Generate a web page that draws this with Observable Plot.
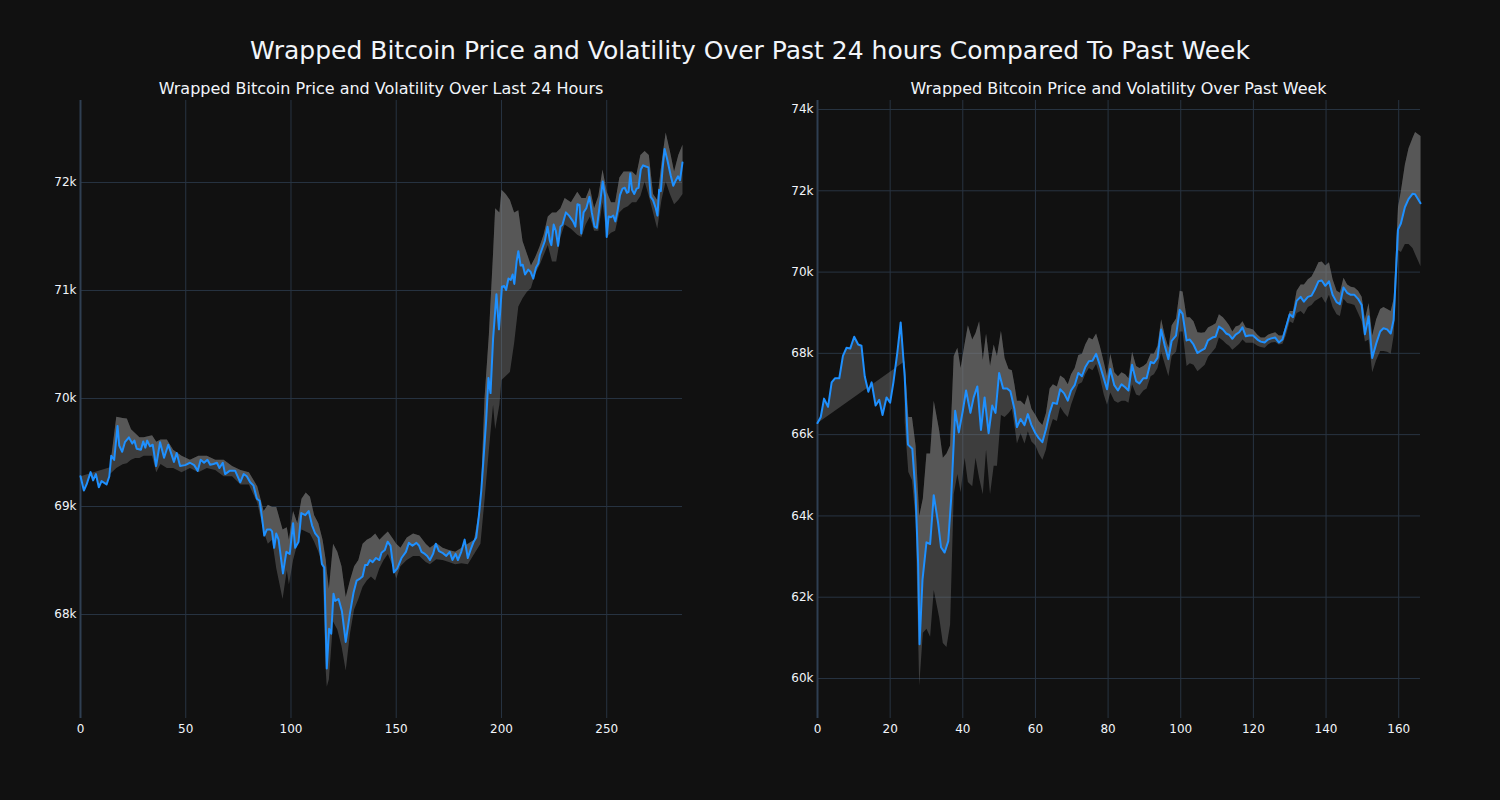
<!DOCTYPE html>
<html>
<head>
<meta charset="utf-8">
<script src="https://cdn.jsdelivr.net/npm/d3@7"></script>
<script src="https://cdn.jsdelivr.net/npm/@observablehq/plot@0.6"></script>
<style>
  html, body { margin: 0; padding: 0; background: #111111; }
  #root { position: relative; width: 1500px; height: 800px; background: #111111; font-family: "DejaVu Sans", sans-serif; color: #f2f5fa; overflow: hidden; }
  .title { position: absolute; left: 0; width: 1500px; top: 36px; text-align: center; font-size: 25px; line-height: 30px; z-index: 2; }
  .sub { position: absolute; top: 79px; font-size: 16px; line-height: 20px; text-align: center; z-index: 2; white-space: nowrap; }
  .panel { position: absolute; top: 90px; z-index: 1; }
</style>
</head>
<body>
<div id="root">
  <div class="title">Wrapped Bitcoin Price and Volatility Over Past 24 hours Compared To Past Week</div>
  <div class="sub" id="sub1" style="left:80px;width:602px;">Wrapped Bitcoin Price and Volatility Over Last 24 Hours</div>
  <div class="sub" id="sub2" style="left:817px;width:603px;">Wrapped Bitcoin Price and Volatility Over Past Week</div>
  <div class="panel" id="p1" style="left:0px;"></div>
  <div class="panel" id="p2" style="left:750px;"></div>
</div>
<script>
// ---------- Last 24 hours (5-minute index) ----------
const hourX = [0,1.6,2.9,4.8,6,7.3,8.7,10,12.4,13.7,14.6,16,17.6,18.4,19.8,21.1,23,24.6,25.6,26.7,28.7,29.8,30.8,31.7,33,34.3,35.9,37.8,39.7,41.7,43,44.4,45.7,47.3,49.7,52,54,55.7,57.1,58.7,60.3,61.6,63.2,64.8,66,67.6,68.7,70.8,73.5,75.9,77.5,79,80.6,82.2,83.8,85.1,86.2,87.3,88.6,90.2,91,92,93,94.1,96.2,97.8,99.4,101,102,103.6,104.9,106.8,108.4,110,111.5,113.1,114.7,115.8,117,118.1,119.1,120.2,121,122.6,124.2,126,128,129.7,131.2,132.8,134,135.2,136.3,137.5,138.8,140.4,142,143,144.6,145.9,147.3,148.9,150.5,152.5,154.6,156,157.7,159.6,160.9,162,163.6,164.7,166,167.5,168.8,170.3,172.2,173.8,175.4,176.7,178.2,179.3,180.9,182.5,184,185.3,186.8,188,189.3,190.4,191.5,192.7,193.8,194.8,196,197.6,198.8,200.2,201.3,202.2,203.3,204.4,205.3,206.1,207.2,208,209.1,210.1,211.2,212.7,213.8,215.1,216.4,217.5,218.2,220.6,221.9,223,223.7,224.8,225.8,226.9,228,229,230.6,232.1,234,235.1,236.1,237.1,237.9,239,240.3,241.8,242.9,244.2,245.3,246.5,248.1,249.2,250,250.9,252,253.1,254.1,255.2,256.3,257.5,258.6,259.6,260.4,261.2,262,263.1,264.2,265.1,266.2,267.3,268.6,269.8,270.9,272,273.3,274.1,274.9,275.7,276.5,277.5,278.8,280.4,281.6,282.8,283.9,284.8,286];
const hourPrice = [69280,69148,69204,69318,69242,69300,69178,69235,69204,69280,69470,69432,69746,69564,69507,69595,69640,69583,69610,69534,69526,69602,69545,69610,69557,69572,69375,69595,69451,69572,69496,69413,69496,69375,69383,69405,69383,69330,69432,69405,69432,69386,69394,69405,69356,69405,69300,69330,69330,69224,69300,69280,69224,69193,69072,69053,68901,68731,68788,68788,68769,68617,68750,68693,68380,68580,68560,68845,68617,68674,68939,68920,68958,68826,68750,68712,68466,68435,67500,67867,67822,68193,68125,68144,68030,67746,68011,68201,68314,68333,68352,68458,68458,68504,68485,68523,68504,68572,68598,68674,68636,68390,68428,68523,68580,68663,68636,68663,68636,68580,68561,68542,68504,68561,68655,68587,68568,68542,68580,68504,68561,68504,68580,68693,68523,68598,68674,68712,68920,69148,69451,69790,70190,70050,70550,70966,70640,71034,71042,71004,71110,71098,71148,71061,71269,71364,71231,71239,71148,71193,71174,71110,71212,71250,71326,71458,71591,71458,71420,71610,71553,71413,71591,71610,71723,71693,71640,71591,71799,71792,71527,71723,71761,71867,71723,71591,71580,71761,72008,71875,71496,71686,71678,71693,71640,71742,71883,71943,71951,71905,71913,72083,71932,71894,71943,71951,72121,72159,72148,72140,71867,71837,71761,71693,71932,71920,72121,72311,72208,72064,71970,72019,72057,72019,72186];
const hourBandX = [14,17,20,22,24,26,28,30,34,36,38,41,44,48,52,56,60,64,68,72,76,80,84,87,89,91,93,96,98,99,101,103,105,107,109,111,113,115,116.5,117,118,120,122,124,126,128,130,132,134,136,138,140,142,144,146,148,150,152,155,158,161,164,166,169,172,175,178,181,184,187,190,192,194,196,197,199,200,202,204,206,208,210,212,214,216,218,220,222,224,226,228,230,233,236,238,240,242,244,246,248,250,252,254,256,258,260,262,264,266,268,270,272,274,276,278,280,282,284,286];
const hourUpper = [69364,69830,69820,69815,69716,69678,69640,69640,69659,69600,69620,69620,69526,69470,69432,69470,69470,69432,69432,69375,69337,69318,69186,68958,69015,68996,68996,68788,68807,68693,68958,68845,69072,69129,69091,68920,68845,68693,68504,68400,68239,68655,68580,68447,68163,68314,68447,68504,68655,68693,68712,68750,68693,68731,68769,68712,68655,68617,68712,68750,68731,68655,68617,68663,68617,68598,68580,68617,68655,68693,69034,70019,70587,71345,71761,71723,71932,71894,71837,71723,71742,71458,71345,71231,71307,71402,71515,71686,71723,71723,71761,71856,71818,71913,71856,71856,71951,71761,71875,72121,71913,71818,71818,72045,72102,72102,72102,72064,72254,72292,72254,71894,71837,72178,72462,72292,72102,72254,72349];
const hourLower = [69300,69356,69390,69400,69432,69450,69450,69470,69470,69318,69394,69356,69356,69318,69356,69318,69356,69337,69280,69280,69204,69204,69034,68769,68655,68693,68428,68144,68409,68277,68504,68655,68788,68769,68750,68674,68580,68466,67481,67330,67400,67935,67860,67708,67481,67822,68049,68144,68258,68314,68352,68314,68428,68504,68561,68466,68333,68447,68504,68542,68542,68485,68466,68511,68504,68485,68466,68474,68466,68561,68655,69072,69526,69943,69716,69943,70170,70208,70246,70511,70852,70928,70985,71023,71155,71231,71326,71420,71269,71269,71496,71610,71572,71515,71496,71610,71686,71553,71553,71818,71496,71534,71553,71723,71761,71780,71818,71818,71875,72008,71875,71723,71572,71837,72008,71894,71799,71837,71894];
const hourXTicks = [0,50,100,150,200,250];
const hourYTicks = [68000,69000,70000,71000,72000];

// ---------- Past week (hourly index) ----------
const weekX = [0,0.9,1.8,2.9,3.9,4.8,6,7,8,9,10.1,11.2,12.1,13,14,14.9,16,17,17.9,19,20,20.9,22,22.9,24,24.9,26.1,27,27.7,28.1,28.9,30,31,32,33.2,34,35,36,36.8,37.9,38.9,40,40.9,42.1,43,44,45,46,47.1,48.1,49,50,51.1,52.2,53.1,54.2,54.9,55.9,57,57.9,58.9,60,60.9,61.9,62.9,63.9,64.8,65.9,66.8,67.9,68.9,69.8,70.8,71.8,72.8,73.7,74.7,75.7,76.7,77.7,78.8,79.7,80.6,81.7,82.7,83.7,84.7,85.6,86.6,87.7,88.6,89.7,90.6,91.7,92.6,93.6,94.6,95.6,96.6,97.5,98.7,99.7,100.5,101.6,102.5,103.5,104.6,105.6,106.6,107.5,108.7,109.6,110.5,111.6,112.5,113.3,114.2,115.1,116.1,117,117.9,118.8,119.9,121.1,122,123.1,124,124.9,126,127,128,128.9,130,130.9,131.9,133,133.9,135,136,136.9,137.9,138.8,139.8,140.8,141.8,142.9,143.8,144.8,145.8,146.8,147.8,148.8,149.8,150.7,151.7,152.7,153.8,154.9,155.8,156.8,157.8,158.6,159.3,159.8,160.6,161.7,162.7,163.8,164.5,166];
const weekPrice = [66285,66435,66886,66685,67287,67387,67387,67938,68138,68118,68409,68219,68188,67437,67056,67287,66715,66856,66485,66916,66786,67287,68038,68760,67437,65754,65653,64531,62828,60844,62427,63349,63309,64511,63830,63229,63098,63379,64431,66585,66054,66585,67086,66535,66916,67186,66114,66916,66034,66715,66535,67517,67137,67137,67066,66635,66185,66385,66235,66505,66235,66034,65914,65814,66134,66535,66786,66756,67116,67016,66836,67086,67217,67517,67437,67657,67808,67818,67988,67718,67387,67116,67617,67217,67086,67237,67167,67086,67718,67317,67257,67387,67387,67788,67758,67888,68589,68188,67858,68309,68439,69070,68970,68319,68339,68219,68008,68068,68118,68319,68389,68409,68659,68589,68489,68459,68359,68459,68519,68640,68419,68439,68439,68339,68289,68269,68339,68369,68389,68269,68339,68619,68960,68890,69291,69391,69271,69391,69421,69572,69772,69792,69662,69772,69441,69261,69211,69622,69491,69441,69441,69341,69191,68469,68910,67888,68239,68539,68619,68589,68489,68820,70092,71044,71194,71595,71796,71926,71916,71695];
const weekBandX = [24,25,26,27,28,29,30,31,32,33.5,34.5,35.5,36.5,37.5,38.5,39.4,40.5,41.4,42.6,43.5,44.5,45.5,46.4,47.5,48.5,49.4,50.5,51.5,52.6,53.5,54.2,54.9,55.9,57,57.9,58.9,60,60.9,61.9,62.9,63.9,64.8,65.9,66.8,67.9,68.9,69.8,70.8,71.8,72.8,73.7,74.7,75.7,76.7,77.7,78.8,79.7,80.6,81.7,82.7,83.7,84.7,85.6,86.6,87.7,88.6,89.7,90.6,91.7,92.6,93.6,94.6,95.6,96.6,97.5,98.7,99.7,100.5,101.6,102.5,103.5,104.6,105.6,106.6,107.5,108.7,109.6,110.5,111.6,112.5,113.3,114.2,115.1,116.1,117,117.9,118.8,119.9,121.1,122,123.1,124,124.9,126,127,128,128.9,130,130.9,131.9,133,133.9,135,136,136.9,137.9,138.8,139.8,140.8,141.8,142.9,143.8,144.8,145.8,146.8,147.8,148.8,149.8,150.7,151.7,152.7,153.8,154.9,155.8,156.8,157.8,158.6,159.3,159.8,160.6,161.7,162.7,163.8,164.5,166];
const weekUpper = [67808,66435,66435,65734,64000,64431,65534,65534,66836,66100,65434,65534,65734,67938,68138,67638,68239,68690,68339,68500,68790,67838,68489,67688,68219,67938,68559,67888,67617,67587,67237,66836,66836,66736,66986,66636,66485,66335,66235,66535,67137,67237,67187,67457,67387,67237,67487,67637,67958,67988,68219,68389,68339,68489,68189,67788,67437,67988,67537,67437,67537,67487,67387,68038,67688,67638,67688,67758,67988,67988,68189,68840,68439,68138,68690,68860,69541,69521,68890,68890,68790,68519,68509,68519,68639,68690,68740,68960,68890,68790,68690,68539,68659,68690,68790,68639,68619,68589,68459,68389,68389,68459,68489,68519,68439,68439,68690,69040,69040,69541,69692,69692,69822,69892,70042,70243,70263,70163,70243,69822,69541,69491,69862,69692,69642,69622,69541,69391,68840,69241,68439,68840,69090,69140,69090,69040,69341,70644,71595,71996,72647,73048,73299,73449,73349];
const weekLower = [66300,65082,64882,63930,59820,61124,61224,61024,62177,61500,60874,60774,61325,64531,65032,64581,65434,64832,64732,65434,64932,64531,65634,64531,65234,65234,66485,66435,66535,66635,66235,65784,66034,65784,66084,65834,65734,65534,65383,65634,66134,66385,66335,66686,66535,66435,66736,66986,67237,67287,67487,67637,67587,67738,67437,66986,66736,67036,66836,66786,66836,66836,66786,67237,66986,66956,67086,67137,67437,67487,67637,68038,67738,67437,67938,68038,68539,68539,67688,67758,67718,67557,67638,67718,67918,68038,68138,68389,68319,68239,68189,68088,68159,68239,68339,68259,68259,68259,68189,68159,68138,68219,68269,68279,68219,68239,68439,68790,68740,68990,69040,68960,69140,69190,69291,69341,69391,69241,69441,69140,68960,68920,69341,69241,69221,69191,68990,68790,68289,68339,67537,67838,68058,68058,68038,67988,68439,69641,70544,70494,70694,70694,70594,70444,70143];
const weekXTicks = [0,20,40,60,80,100,120,140,160];
const weekYTicks = [60000,62000,64000,66000,68000,70000,72000,74000];

function pts(xs, ys) { return xs.map((x, i) => ({x, y: ys[i]})); }

function panel(opts) {
  const price = pts(opts.x, opts.price);
  const upper = pts(opts.bandX, opts.upper);
  const lower = pts(opts.bandX, opts.lower);
  // Plotly-style "tonexty" polygons: price -> upper, then upper -> lower
  const poly1 = price.concat(upper.slice().reverse());
  const poly2 = upper.concat(lower.slice().reverse());
  return Plot.plot({
    width: opts.width,
    height: 660,
    marginTop: 10,
    marginBottom: 32,
    marginLeft: opts.marginLeft,
    marginRight: opts.marginRight,
    style: {background: "transparent", color: "#f2f5fa", fontSize: "12px", fontFamily: "'DejaVu Sans', sans-serif"},
    x: {domain: opts.xDomain, ticks: opts.xTicks, tickSize: 0, tickPadding: 6, label: null, tickFormat: d => String(d)},
    y: {domain: opts.yDomain, ticks: opts.yTicks, tickSize: 0, tickPadding: 4, label: null, tickFormat: d => (d / 1000) + "k"},
    marks: [
      Plot.gridX(opts.xTicks, {stroke: "#283442", strokeOpacity: 1, strokeWidth: 1}),
      Plot.gridY(opts.yTicks, {stroke: "#283442", strokeOpacity: 1, strokeWidth: 1}),
      Plot.ruleX([0], {stroke: "#2f3f52", strokeWidth: 2}),
      Plot.line(poly1, {x: "x", y: "y", fill: "#808080", fillOpacity: 0.4, stroke: "none", curve: "linear"}),
      Plot.line(poly2, {x: "x", y: "y", fill: "#808080", fillOpacity: 0.4, stroke: "none", curve: "linear"}),
      Plot.line(price, {x: "x", y: "y", stroke: "#1e90ff", strokeWidth: 2, strokeLinejoin: "round"})
    ]
  });
}

document.getElementById("p1").appendChild(panel({
  x: hourX, price: hourPrice, bandX: hourBandX, upper: hourUpper, lower: hourLower,
  xDomain: [0, 286], yDomain: [67037, 72759], xTicks: hourXTicks, yTicks: hourYTicks,
  width: 700, marginLeft: 80, marginRight: 18
}));
document.getElementById("p2").appendChild(panel({
  x: weekX, price: weekPrice, bandX: weekBandX, upper: weekUpper, lower: weekLower,
  xDomain: [0, 166], yDomain: [59015, 74222], xTicks: weekXTicks, yTicks: weekYTicks,
  width: 700, marginLeft: 67, marginRight: 30
}));
</script>
</body>
</html>
